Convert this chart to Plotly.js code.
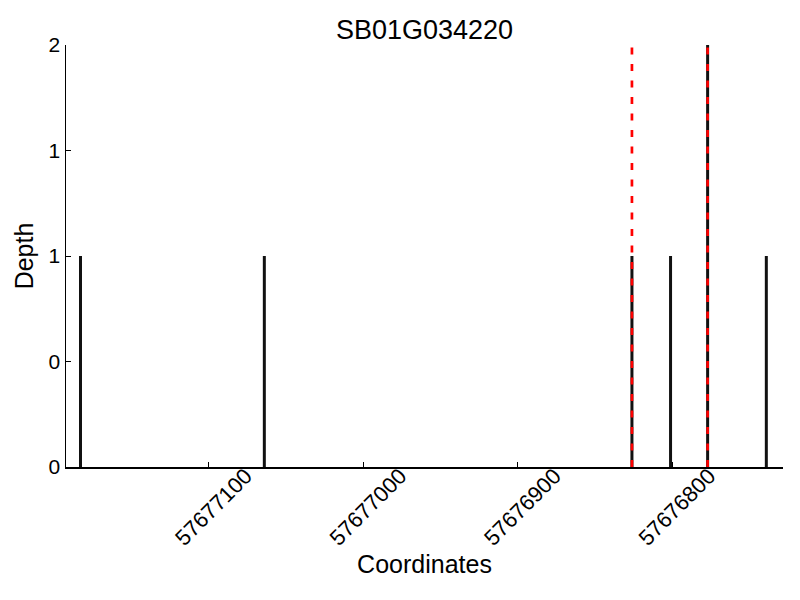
<!DOCTYPE html>
<html>
<head>
<meta charset="utf-8">
<script src="https://cdn.plot.ly/plotly-3.0.1.min.js"></script>
<style>html,body{margin:0;padding:0;background:#fff}#chart{width:800px;height:600px}</style>
</head>
<body>
<div id="chart"></div>
<script>
const chartTitle = "SB01G034220";
const coords = [57677183, 57677064, 57676826, 57676801, 57676777, 57676739];
const depths = [1, 1, 1, 1, 2, 1];
const markers = [57676826, 57676777];
const xTickVals = [57677100, 57677000, 57676900, 57676800];
const xTickText = ["57677100", "57677000", "57676900", "57676800"];
const yTickVals = [0, 0.5, 1, 1.5, 2];
const yTickText = ["0", "0", "1", "1", "2"];
const xRange = [57677192.4, 57676728.2];
const yRange = [0, 2];

const bx = [], by = [];
coords.forEach((c, i) => { bx.push(c, c, null); by.push(0, depths[i], null); });
const mx = [], my = [];
markers.forEach(m => { mx.push(m, m, null); my.push(yRange[0], yRange[1], null); });

const font = "Liberation Sans, Arial, sans-serif";
const traces = [
  {x: bx, y: by, type: "scatter", mode: "lines", line: {color: "#111", width: 3}, hoverinfo: "skip", cliponaxis: false},
  {x: mx, y: my, type: "scatter", mode: "lines", line: {color: "#ff0000", width: 2.7, dash: "7px,9.5px"}, hoverinfo: "skip", cliponaxis: false}
];
const layout = {
  width: 800, height: 600,
  margin: {l: 65.5, r: 17.3, t: 45, b: 133},
  paper_bgcolor: "#fff", plot_bgcolor: "#fff",
  showlegend: false,
  font: {family: font, color: "#000"},
  title: {text: chartTitle, font: {size: 27, family: font, color: "#000"}, x: 0.5, xref: "paper", xanchor: "center", y: 0.95, yref: "container", yanchor: "middle"},
  xaxis: {
    range: xRange, autorange: false,
    tickvals: xTickVals, ticktext: xTickText, tickangle: -45,
    ticks: "inside", ticklen: 5, tickwidth: 1, tickcolor: "#000",
    ticklabelshift: -37, ticklabelstandoff: -14,
    tickfont: {size: 22, family: font, color: "#000"},
    showgrid: false, zeroline: false, showline: true, linecolor: "#000", linewidth: 1.5,
    title: {text: "Coordinates", font: {size: 25, family: font, color: "#000"}, standoff: 6},
    automargin: false
  },
  yaxis: {
    range: yRange, autorange: false,
    tickvals: yTickVals, ticktext: yTickText,
    ticks: "inside", ticklen: 5, tickwidth: 1, tickcolor: "#000",
    tickfont: {size: 21, family: font, color: "#000"},
    showgrid: false, zeroline: false, showline: true, linecolor: "#000", linewidth: 1.5,
    title: {text: "Depth", font: {size: 25, family: font, color: "#000"}, standoff: 8},
    automargin: false
  }
};
Plotly.newPlot("chart", traces, layout, {staticPlot: true});
</script>
</body>
</html>
